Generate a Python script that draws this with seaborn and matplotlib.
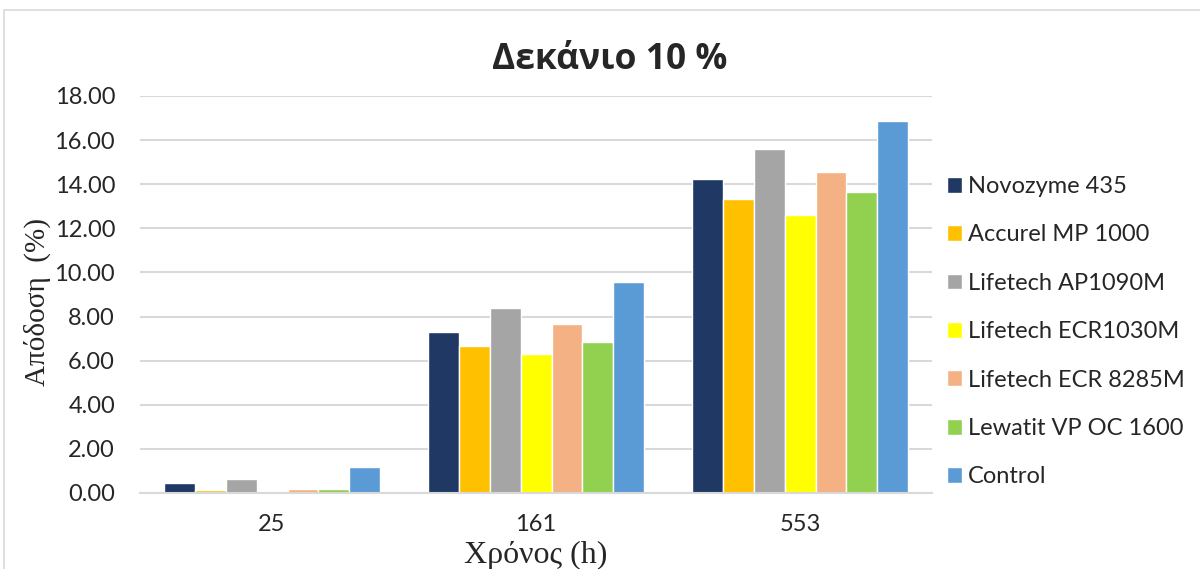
import pandas as pd
import matplotlib.pyplot as plt
import matplotlib.patches as mpatches
import seaborn as sns

#------------------------------------------
times=['25', '161', '553']
series=['Novozyme 435', 'Accurel MP 1000', 'Lifetech AP1090M', 'Lifetech ECR1030M',
        'Lifetech ECR 8285M', 'Lewatit VP OC 1600', 'Control']
novozyme=[0.45, 7.30, 14.22]
accurel=[0.13, 6.65, 13.32]
ap1090=[0.65, 8.37, 15.59]
ecr1030=[0.00, 6.30, 12.60]
ecr8285=[0.18, 7.67, 14.57]
lewatit=[0.16, 6.83, 13.66]
control=[1.17, 9.58, 16.86]
colors=['#203864', '#FFC000', '#A5A5A5', '#FFFF00', '#F4B183', '#92D050', '#5B9BD5']

#------------------------------------------
l_val=[novozyme, accurel, ap1090, ecr1030, ecr8285, lewatit, control]
rows=[]
for name, vals in zip(series, l_val):
    for t, v in zip(times, vals):
        rows.append({'time': t, 'series': name, 'value': v})
df=pd.DataFrame(rows)

sns.set_style('white')
fig=plt.figure(figsize=(12, 5.69), dpi=100)
ax=fig.add_axes([0.1167, 0.1336, 0.66, 0.6977])
sns.barplot(data=df, x='time', y='value', hue='series', order=times, hue_order=series,
            palette=colors, width=0.82, saturation=1, ax=ax, legend=True)

#axes
ax.set_ylim(0, 18)
ax.set_yticks(range(0, 19, 2))
ax.set_yticklabels([f'{v:.2f}' for v in range(0, 19, 2)])
ax.yaxis.grid(True, color='#D9D9D9', lw=1.5)
ax.set_axisbelow(True)
for s in ['top', 'right', 'left']:
    ax.spines[s].set_visible(False)
ax.spines['bottom'].set_color('#D9D9D9')
ax.spines['bottom'].set_linewidth(1.5)
ax.tick_params(axis='both', length=0, labelsize=17)
ax.tick_params(axis='x', pad=15)
ax.tick_params(axis='y', pad=18)
for lbl in ax.get_xticklabels()+ax.get_yticklabels():
    lbl.set_family(['Lato', 'DejaVu Sans'])

ax.set_xlabel('Χρόνος (h)', family='Liberation Serif', fontsize=23)
ax.xaxis.set_label_coords(0.5, -0.12)
ax.set_ylabel('Απόδοση  (%)', family='Liberation Serif', fontsize=21)
ax.yaxis.set_label_coords(-0.112, 0.481)
fig.text(0.508, 0.8945, 'Δεκάνιο 10 %', family=['Open Sans', 'DejaVu Sans'], fontsize=25.5,
         weight='bold', ha='center', va='center')

#legend
h, l=ax.get_legend_handles_labels()
ax.legend(h, l, loc='center left', bbox_to_anchor=(0.7715, 0.417), bbox_transform=fig.transFigure,
          frameon=False, handlelength=0.65, handleheight=0.65, handletextpad=0.25,
          labelspacing=1.16, prop={'family': 'Lato', 'size': 17})

#chart frame
fig.patches.append(mpatches.Rectangle((0.0035, -0.01), 1.1, 0.992, transform=fig.transFigure,
                                      fill=False, edgecolor='#D9D9D9', lw=1.2))

plt.savefig('out.png', dpi=100)
plt.close()
